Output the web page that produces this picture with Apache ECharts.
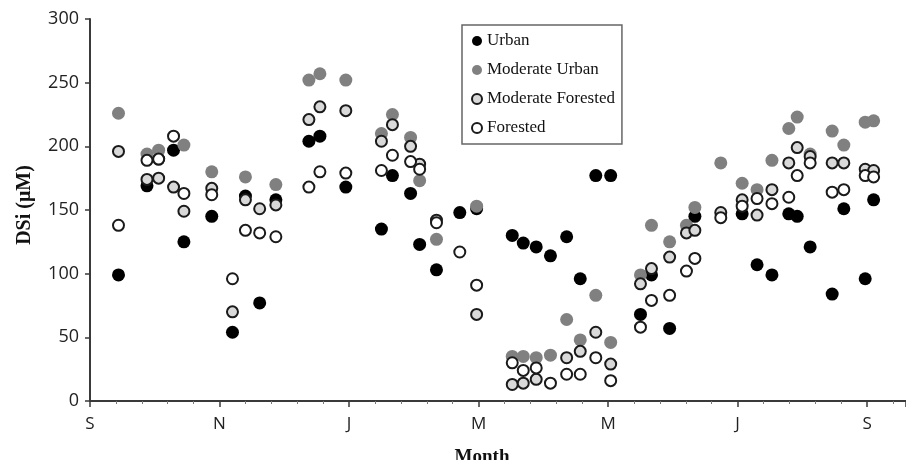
<!DOCTYPE html>
<html><head><meta charset="utf-8">
<script src="https://cdn.jsdelivr.net/npm/echarts@6/dist/echarts.min.js"></script>
<style>html,body{margin:0;padding:0;background:#fff}#c{width:906px;height:460px}</style>
</head><body><div id="c"></div>
<script>
// sampling dates, in months after 1 September (S=0, N=2, J=4, M=6, M=8, J=10, S=12)
const sampleMonths = [0.44,0.88,1.06,1.29,1.45,1.88,2.20,2.40,2.62,2.87,
  3.38,3.55,3.95,4.50,4.67,4.95,5.09,5.35,5.71,5.97,
  6.52,6.69,6.89,7.11,7.36,7.57,7.81,8.04,8.50,8.67,
  8.95,9.21,9.34,9.74,10.07,10.30,10.53,10.79,10.92,11.12,
  11.46,11.64,11.97,12.10];
const urban = [99,169,190,197,125,145,54,161,77,158,
  204,208,168,135,177,163,123,103,148,151,
  130,124,121,114,129,96,177,177,68,99,
  57,null,145,null,147,107,99,147,145,121,
  84,151,96,158];
const moderateUrban = [226,194,197,null,201,180,null,176,null,170,
  252,257,252,210,225,207,173,127,null,153,
  35,35,34,36,64,48,83,46,99,138,
  125,138,152,187,171,166,189,214,223,194,
  212,201,219,220];
const moderateForested = [196,174,175,168,149,167,70,158,151,154,
  221,231,228,204,217,200,186,142,null,68,
  13,14,17,null,34,39,54,29,92,104,
  113,132,134,148,158,146,166,187,199,192,
  187,187,182,181];
const forested = [138,189,190,208,163,162,96,134,132,129,
  168,180,179,181,193,188,182,140,117,91,
  30,24,26,14,21,21,34,16,58,79,
  83,102,112,144,153,159,155,160,177,187,
  164,166,177,176];
const monthTickValues = [0,2,4,6,8,10,12];
const monthTickLabels = ['S','N','J','M','M','J','S'];
const seriesNames = ['Urban','Moderate Urban','Moderate Forested','Forested'];

function pairs(vals){
  const out = [];
  sampleMonths.forEach((m,i)=>{ if (vals[i] != null) out.push([m, vals[i]]); });
  return out;
}

const chart = echarts.init(document.getElementById('c'), null, {renderer:'canvas'});
const axisColor = '#3a3a3a';
chart.setOption({
  animation:false,
  backgroundColor:'#fff',
  grid:{left:90, right:0, top:19, bottom:59, containLabel:false, outerBoundsMode:'none'},
  legend:{
    orient:'vertical', left:462, top:25, padding:[6,7,6,9], itemGap:9,
    itemWidth:10, itemHeight:10, borderColor:'#666', borderWidth:1.5, borderRadius:0,
    textStyle:{fontFamily:'Liberation Serif', fontSize:17, color:'#111', lineHeight:20},
    data:seriesNames
  },
  xAxis:{
    type:'value', min:0, max:12.6, interval:2,
    axisLine:{show:true, lineStyle:{color:axisColor, width:2}},
    axisTick:{show:true, length:6, lineStyle:{color:axisColor, width:1.5}},
    minorTick:{show:true, splitNumber:5, length:3, lineStyle:{color:'#777', width:1}},
    splitLine:{show:false}, minorSplitLine:{show:false},
    axisLabel:{
      formatter:function(v){ const i = monthTickValues.indexOf(Math.round(v*100)/100); return i>=0 ? monthTickLabels[i] : ''; },
      fontFamily:'Open Sans', fontSize:17, color:'#222', margin:15
    },
    name:'Month', nameLocation:'middle', nameGap:47,
    nameTextStyle:{fontFamily:'Liberation Serif', fontWeight:'bold', fontSize:19, color:'#111', padding:[0,32,0,0]}
  },
  yAxis:{
    type:'value', min:0, max:300, interval:50,
    axisLine:{show:true, lineStyle:{color:axisColor, width:2}},
    axisTick:{show:true, length:5, lineStyle:{color:axisColor, width:1.5}},
    splitLine:{show:false},
    axisLabel:{fontFamily:'Open Sans', fontSize:18, color:'#222', margin:11},
    name:'DSi (μM)', nameLocation:'middle', nameGap:55, nameRotate:90,
    nameTextStyle:{fontFamily:'Liberation Serif', fontWeight:'bold', fontSize:20, color:'#111', padding:[0,0,0,10]}
  },
  series:[
    {name:seriesNames[0], type:'scatter', symbol:'circle', symbolSize:13, data:pairs(urban),
      itemStyle:{color:'#000', opacity:1}},
    {name:seriesNames[1], type:'scatter', symbol:'circle', symbolSize:13, data:pairs(moderateUrban),
      itemStyle:{color:'#808080', opacity:1}},
    {name:seriesNames[2], type:'scatter', symbol:'circle', symbolSize:11, data:pairs(moderateForested),
      itemStyle:{color:'#d9d9d9', borderColor:'#1a1a1a', borderWidth:2, opacity:1}},
    {name:seriesNames[3], type:'scatter', symbol:'circle', symbolSize:11, data:pairs(forested),
      itemStyle:{color:'#ffffff', borderColor:'#1a1a1a', borderWidth:2, opacity:1}}
  ]
});
</script></body></html>
